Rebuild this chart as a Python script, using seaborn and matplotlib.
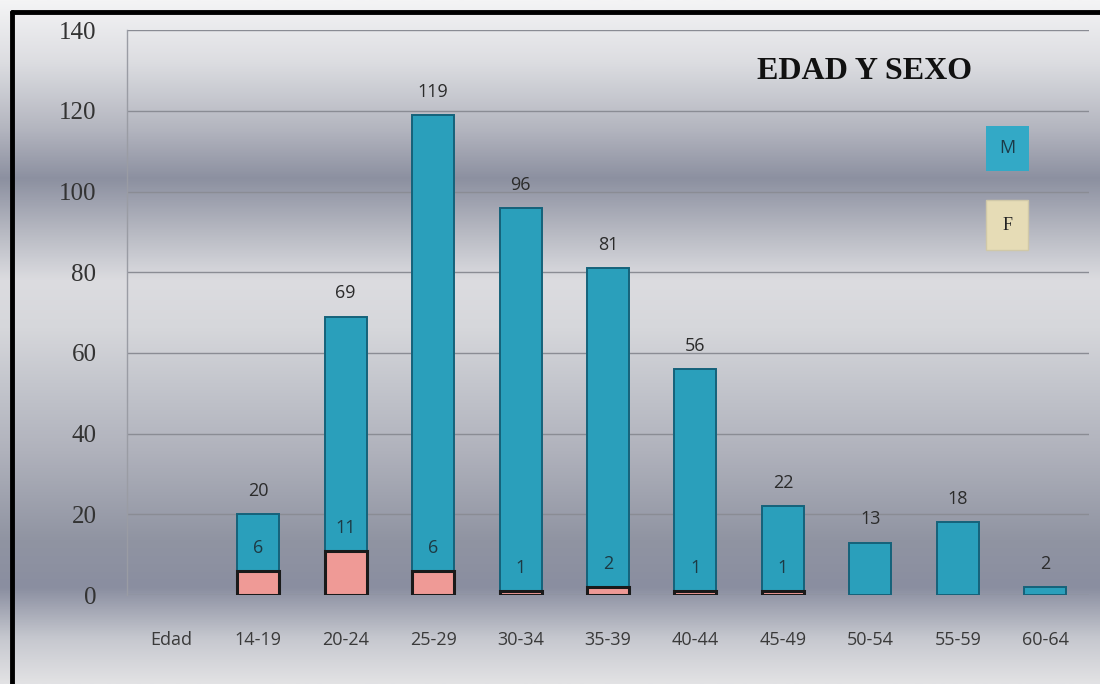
import numpy as np
import pandas as pd
import seaborn as sns
import matplotlib.pyplot as plt
from matplotlib.colors import LinearSegmentedColormap
from matplotlib.lines import Line2D

edades = ["Edad", "14-19", "20-24", "25-29", "30-34", "35-39", "40-44", "45-49", "50-54", "55-59", "60-64"]
masculino = [0, 20, 69, 119, 96, 81, 56, 22, 13, 18, 2]
femenino = [0, 6, 11, 6, 1, 2, 1, 1, 0, 0, 0]
yticks = [0, 20, 40, 60, 80, 100, 120, 140]

df = pd.DataFrame({"Edad": edades, "M": masculino, "F": femenino})

sns.set_theme(style="white")
plt.rcParams["font.family"] = ["Open Sans", "DejaVu Sans"]

fig = plt.figure(figsize=(11, 6.84), dpi=100)

# fondo degradado
stops = [(0.0, "#f4f4f5"), (0.09, "#dcdde1"), (0.19, "#b2b4be"), (0.26, "#8c90a0"),
         (0.34, "#b8bac3"), (0.41, "#dcdce0"), (0.48, "#d6d7db"), (0.56, "#c4c6cd"),
         (0.66, "#b0b2bc"), (0.79, "#9094a2"), (0.86, "#8a8ea0"), (0.935, "#c6c8cf"),
         (1.0, "#e2e2e4")]
cmap = LinearSegmentedColormap.from_list("fondo", stops)
bg = fig.add_axes([0, 0, 1, 1], zorder=-10)
bg.imshow(np.linspace(0, 1, 256).reshape(-1, 1), aspect="auto", cmap=cmap, extent=[0, 1, 0, 1])
bg.set_axis_off()

ax = fig.add_axes([0.1155, 0.130, 0.8745, 0.826])
ax.set_facecolor("none")

sns.barplot(data=df, x="Edad", y="M", color="#2a9fbb", width=0.48, edgecolor="#15627a",
            linewidth=1.4, saturation=1, ax=ax, zorder=2)
sns.barplot(data=df, x="Edad", y="F", color="#ef9a96", width=0.48, edgecolor="#1a1a1a",
            linewidth=2.2, saturation=1, ax=ax, zorder=3)
# sin barras vacías
for p in list(ax.patches):
    if p.get_height() == 0:
        p.remove()

# etiquetas
for i, v in enumerate(masculino):
    if v > 0:
        ax.text(i, v + 3.5, str(v), ha="center", va="bottom", fontsize=13, color="#2b2b2b")
for i, v in enumerate(femenino):
    if v > 0:
        ax.text(i, v + 3.5, str(v), ha="center", va="bottom", fontsize=13, color="#1d3a44")

ax.set_ylim(0, 140)
ax.set_xlim(-0.5, len(edades) - 0.5)
ax.set_yticks(yticks)
ax.set_yticklabels([str(t) for t in yticks], fontfamily="Liberation Serif", fontsize=18, color="#333333")
ax.tick_params(axis="y", pad=22, length=0)
ax.tick_params(axis="x", pad=26, length=0, labelsize=13, labelcolor="#3a3a3a")
ax.set_xlabel("")
ax.set_ylabel("")
ax.yaxis.grid(True, color="#8a8c94", linewidth=1)
ax.set_axisbelow(True)
for s in ["top", "right", "bottom"]:
    ax.spines[s].set_visible(False)
ax.spines["left"].set_color("#9a9ca4")
ax.spines["left"].set_linewidth(1)

ax.text(0.767, 0.927, "EDAD Y SEXO", transform=ax.transAxes, ha="center", va="center",
        fontfamily="Liberation Serif", fontweight="bold", fontsize=23, color="#111111")

# leyenda
ax.text(0.915, 0.791, "M", transform=ax.transAxes, ha="center", va="center", fontsize=13,
        color="#1b3a48", bbox=dict(boxstyle="square,pad=0.75", fc="#33a9c6", ec="none"))
ax.text(0.915, 0.655, "F", transform=ax.transAxes, ha="center", va="center", fontsize=13,
        fontfamily="Liberation Serif", color="#222222",
        bbox=dict(boxstyle="square,pad=0.9", fc="#e6dcb6", ec="#d0c8a8"))

# marco
fig.add_artist(Line2D([0.011, 1.0], [0.982, 0.982], color="black", linewidth=3.5))
fig.add_artist(Line2D([0.011, 0.011], [0.0, 0.982], color="black", linewidth=3.5))

fig.savefig("out.png", dpi=100)
